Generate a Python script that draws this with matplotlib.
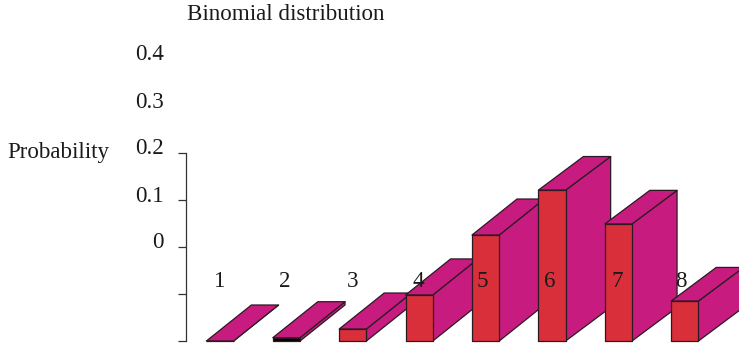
import matplotlib
matplotlib.use('Agg')
import matplotlib.pyplot as plt
from matplotlib.patches import Polygon

# Data
categories = [1, 2, 3, 4, 5, 6, 7, 8]
heights = [0.0, 0.007, 0.0255, 0.098, 0.2255, 0.321, 0.249, 0.085]
axis_ticks = [0, 0.1, 0.2, 0.3, 0.4]
value_labels = ['0', '0.1', '0.2', '0.3', '0.4']
value_label_pos = [0.2, 0.3, 0.4, 0.5, 0.6]

W, H = 739, 345
RED = '#D92F3B'
MAGENTA = '#C71B80'
EDGE = '#2B1A22'
bar_w = 0.41
depth_x = 0.678
depth_y = [0.0766, 0.0766, 0.0766, 0.0766, 0.0766, 0.0715, 0.0715, 0.0715]
label_shift = [0, -2, 0, -1, -3, -2, -1, -4]
front_colors = [RED, 'black', RED, RED, RED, RED, RED, RED]

plt.rcParams['font.family'] = ['Liberation Serif', 'DejaVu Serif']
fig = plt.figure(figsize=(W / 100, H / 100), dpi=100)
ax = fig.add_axes([186 / W, 4 / H, (W - 186) / W, 188 / H])
ax.set_xlim(0.488, 8.816)
ax.set_ylim(0, 0.4)
ax.patch.set_alpha(0)

for s in ['top', 'right', 'bottom']:
    ax.spines[s].set_visible(False)
ax.spines['left'].set_color('#333333')
ax.spines['left'].set_linewidth(0.9)
ax.set_xticks([])
ax.set_yticks(axis_ticks)
ax.set_yticklabels([])
ax.tick_params(axis='y', length=5.8, width=0.9, color='#333333')

# painter's order, left to right
for c, h, fc, dy in zip(categories, heights, front_colors, depth_y):
    x0 = c - bar_w / 2
    x1 = c + bar_w / 2
    top = [(x0, h), (x1, h), (x1 + depth_x, h + dy), (x0 + depth_x, h + dy)]
    side = [(x1, 0), (x1 + depth_x, dy), (x1 + depth_x, h + dy), (x1, h)]
    front = [(x0, 0), (x1, 0), (x1, h), (x0, h)]
    for pts, col in [(side, MAGENTA), (top, MAGENTA), (front, fc)]:
        ax.add_patch(Polygon(pts, closed=True, facecolor=col, edgecolor=EDGE,
                             linewidth=0.9, joinstyle='round', clip_on=False))

# category numbers sit over the bars
for c, s in zip(categories, label_shift):
    ax.annotate(str(c), xy=(c, 0.128), xytext=(s, -1), textcoords='offset pixels',
                ha='center', va='center', fontsize=16.6, color='#1a1a1a',
                annotation_clip=False, zorder=10)

# value labels stand a little above their ticks
for lab, p in zip(value_labels, value_label_pos):
    ax.annotate(lab, xy=(0.488, p), xytext=(-22, 4), textcoords='offset pixels',
                ha='right', va='center', fontsize=16.6, color='#1a1a1a',
                annotation_clip=False)

fig.text(187 / W, 1 - 15 / H, 'Binomial distribution', ha='left', va='center',
         fontsize=16.6, color='#1a1a1a')
fig.text(7 / W, 1 - 152 / H, 'Probability', ha='left', va='center',
         fontsize=16.6, color='#1a1a1a')

fig.savefig('out.png', dpi=100)
